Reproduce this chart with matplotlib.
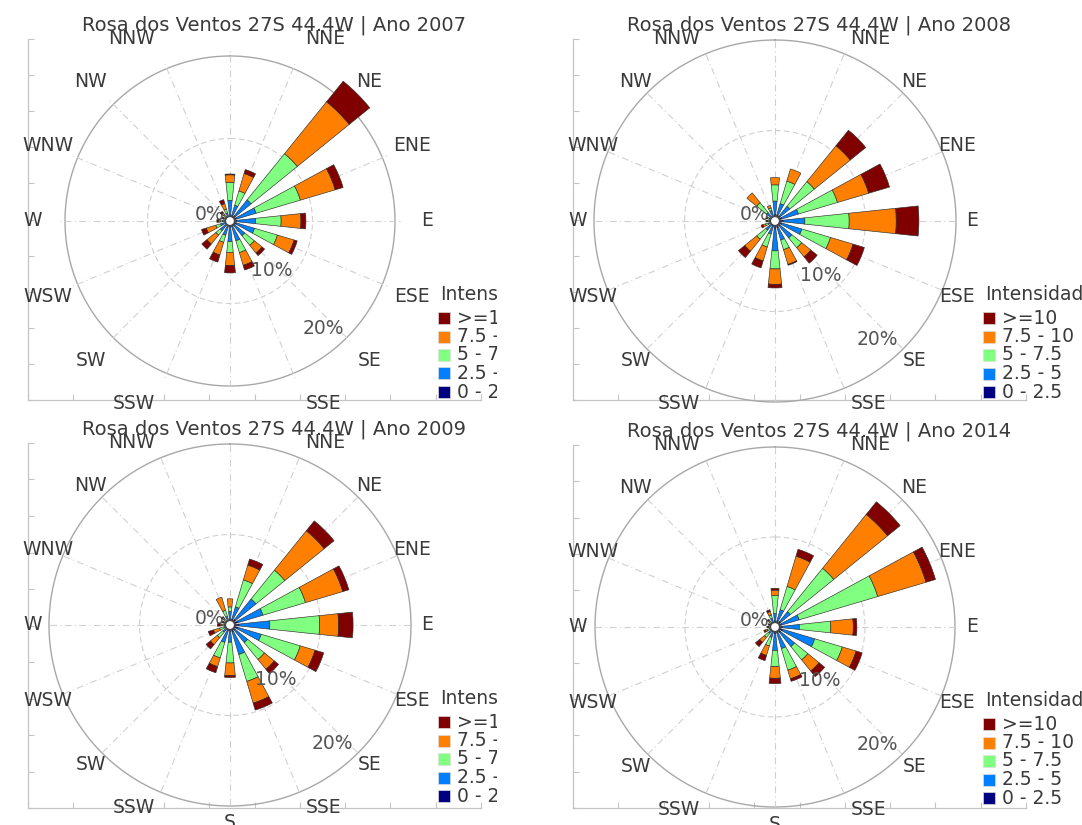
import matplotlib
matplotlib.use('Agg')
import matplotlib.pyplot as plt
from matplotlib.patches import Wedge, Circle, Rectangle
import numpy as np

W_PX, H_PX = 1082, 825

directions = ['N', 'NNE', 'NE', 'ENE', 'E', 'ESE', 'SE', 'SSE',
              'S', 'SSW', 'SW', 'WSW', 'W', 'WNW', 'NW', 'NNW']
classes = ['0 - 2.5', '2.5 - 5', '5 - 7.5', '7.5 - 10', '>=10']
class_colors = ['#000080', '#0080ff', '#80ff80', '#ff8000', '#800000']
years = [2007, 2008, 2009, 2014]

# frequencia (%) por classe de intensidade (linhas) e direcao (colunas)
freq_2007 = [
    [.6, .7, .8, .8, .8, .8, .7, .7, .7, .6, .5, .5, .4, .3, .3, .4],
    [1.9, 1.3, 2.5, 2.5, 2.3, 2.3, 1.6, 1.8, 1.8, 1.2, 1.0, .7, .5, .3, .4, .6],
    [2.2, 1.8, 7.2, 5.6, 3.1, 2.9, 1.5, 1.5, 1.3, .9, .7, .6, .3, .2, .3, .5],
    [.9, 2.2, 8.1, 4.4, 2.4, 2.1, 1.2, 1.6, 1.6, 1.6, 1.4, 1.2, .2, .1, .3, .7],
    [.1, .5, 3.2, 1.0, .6, .4, .4, .6, .9, .9, .8, .6, .2, .1, .2, .5],
]
freq_2008 = [
    [.7, .7, .7, .8, .9, .8, .7, .8, .9, .6, .5, .4, .3, .3, .4, .4],
    [1.5, 1.3, 1.4, 1.9, 2.4, 2.3, 1.7, 1.4, 2.4, .9, .8, .4, .3, .4, .8, .8],
    [1.8, 2.6, 3.5, 4.5, 4.9, 3.3, 1.4, 1.1, 2.0, 1.5, 1.3, .3, .2, .2, 1.4, .3],
    [.8, 1.4, 5.1, 3.6, 5.2, 2.6, 1.3, 1.7, 1.7, 1.6, 1.7, .3, .1, .1, 1.4, .3],
    [0, 0, 2.2, 2.4, 2.5, 1.3, .9, .1, .4, .8, .9, .2, .1, 0, 0, 0],
]
freq_2009 = [
    [.6, .7, .8, .9, 1.0, .9, .7, .8, .6, .6, .4, .3, .3, .3, .3, .4],
    [.9, 1.4, 2.9, 2.9, 3.4, 2.7, 1.8, 2.6, 1.3, 1.4, .6, .4, .3, .2, .3, .6],
    [.5, 3.1, 4.1, 4.9, 5.5, 4.5, 2.4, 3.1, 2.3, 1.8, .8, .5, .3, .2, .3, .7],
    [.9, 1.7, 5.6, 4.3, 2.1, 1.7, 1.4, 2.5, 1.4, 1.0, 1.0, .7, .2, .1, .2, 1.5],
    [0, .7, 1.4, .7, 1.6, 1.0, .6, .8, .2, .7, .6, .6, .3, .1, .1, 0],
]
freq_2014 = [
    [.6, .7, .8, .8, .8, .9, .8, .7, .7, .5, .4, .3, .3, .3, .3, .4],
    [.9, 1.3, 1.4, 2.0, 1.9, 3.7, 2.0, 1.8, 1.9, .7, .5, .3, .2, .2, .3, .6],
    [2.0, 2.7, 6.2, 9.1, 3.5, 3.2, 1.9, 2.5, 1.8, 1.0, .6, .3, .2, .1, .2, .4],
    [.6, 3.5, 7.7, 5.6, 2.5, 1.6, 1.6, 1.0, 1.3, 1.1, .7, .2, .1, .1, .2, .4],
    [.2, .8, 1.8, 1.1, .4, .7, .8, .3, .6, .6, .6, .2, .1, .1, .1, .2],
]
freqs = [freq_2007, freq_2008, freq_2009, freq_2014]

# layout de cada painel em pixels
frame_left = [28, 573, 28, 573]
frame_top = [39, 39, 443, 445]
frame_h = [361, 361, 365, 363]
frame_w = 453
rose_radius = [165, 181, 181, 180]   # raio do circulo de 20%
spoke_pct = [21, 20, 20, 20]
panel_box = [(0, 0, 497, 410), (545, 0, 1082, 410),
             (0, 410, 497, 825), (545, 410, 1082, 825)]

text_col = '#3a3a3a'
bar_width = 12.0  # graus

fig = plt.figure(figsize=(W_PX / 100, H_PX / 100), dpi=100)
fig.patch.set_facecolor('white')


def fig_rect(x0, y0, x1, y1):
    return [x0 / W_PX, 1 - y1 / H_PX, (x1 - x0) / W_PX, (y1 - y0) / H_PX]


for i, year in enumerate(years):
    fl, ft, fh = frame_left[i], frame_top[i], frame_h[i]

    # eixos cartesianos de fundo (so as linhas e ticks)
    axf = fig.add_axes(fig_rect(fl, ft, fl + frame_w, ft + fh), zorder=1)
    axf.set_xlim(0, 1)
    axf.set_ylim(0, 1)
    axf.set_xticks(np.linspace(0, 1, 11))
    axf.set_yticks(np.linspace(0, 1, 11))
    axf.tick_params(direction='in', length=4, width=0.8, color='#c4c4c4',
                    labelbottom=False, labelleft=False)
    for side in ['top', 'right']:
        axf.spines[side].set_visible(False)
    for side in ['left', 'bottom']:
        axf.spines[side].set_color('#c4c4c4')
        axf.spines[side].set_linewidth(0.9)
    axf.set_facecolor('none')

    # eixos da rosa, em % a partir do centro
    cx, cy = fl + 202, ft + 182
    s = rose_radius[i] / 20.0
    x0, y0, x1, y1 = panel_box[i]
    ax = fig.add_axes(fig_rect(x0, y0, x1, y1), zorder=2)
    ax.set_xlim((x0 - cx) / s, (x1 - cx) / s)
    ax.set_ylim((cy - y1) / s, (cy - y0) / s)
    ax.axis('off')

    def D(px, py):
        return (px - cx) / s, (cy - py) / s

    # grade
    th = np.linspace(0, 2 * np.pi, 400)
    ax.plot(10 * np.sin(th), 10 * np.cos(th), color='#d0d0d0', lw=0.8,
            ls=(0, (5, 3)), zorder=1)
    ax.plot(20 * np.sin(th), 20 * np.cos(th), color='#a8a8a8', lw=1.0, zorder=1)
    for k in range(len(directions)):
        b = np.radians(22.5 * k)
        ax.plot([0, spoke_pct[i] * np.sin(b)], [0, spoke_pct[i] * np.cos(b)],
                color='#d0d0d0', lw=0.8, ls=(0, (6, 3, 1, 3)), zorder=1)

    ax.text(-20 / s, 7 / s, '0%', fontsize=13.5, color='#555555',
            ha='center', va='center', zorder=2)
    for val, rr, bb in [(10, 7.8, 140), (20, 17.3, 139)]:
        ax.text(rr * np.sin(np.radians(bb)), rr * np.cos(np.radians(bb)),
                '%d%%' % val, fontsize=13.5, color='#555555',
                ha='center', va='center', zorder=5)

    # barras empilhadas
    data = freqs[i]
    for k in range(len(directions)):
        ang = 90 - 22.5 * k
        bottom = 0.0
        for c in range(len(classes)):
            f = data[c][k]
            if f <= 0:
                continue
            top = bottom + f
            ax.add_patch(Wedge((0, 0), top, ang - bar_width / 2, ang + bar_width / 2,
                               width=f, facecolor=class_colors[c],
                               edgecolor='#2e2e2e', lw=0.45, zorder=3))
            bottom = top
    ax.add_patch(Circle((0, 0), 4.5 / s, facecolor='white',
                        edgecolor='#444444', lw=0.9, zorder=4))

    # rotulos das direcoes
    R = 197 / s
    for k, name in enumerate(directions):
        if name == 'N':
            continue
        b = np.radians(22.5 * k)
        ha = 'center'
        if name in ('NNE', 'SSE'):
            ha = 'left'
        elif name in ('NNW', 'SSW'):
            ha = 'right'
        ax.text(R * np.sin(b), R * np.cos(b), name, fontsize=13.5,
                color=text_col, ha=ha, va='center', clip_on=True, zorder=5)

    # titulo
    tx, ty = D(fl + 246, ft - 14)
    ax.text(tx, ty, 'Rosa dos Ventos 27S 44.4W | Ano %d' % year,
            fontsize=14, color=text_col, ha='center', va='center', zorder=6)

    # legenda
    lx = fl + 410
    gx, gy = D(lx + 2, ft + 256)
    ax.text(gx, gy, 'Intensidade', fontsize=13.5, color=text_col,
            ha='left', va='center', clip_on=True, zorder=6)
    for j in range(len(classes)):
        c = len(classes) - 1 - j
        rowy = ft + 279 + j * 18.5
        rx0, ry0 = D(lx, rowy + 6)
        ax.add_patch(Rectangle((rx0, ry0), 12 / s, 12 / s,
                               facecolor=class_colors[c], edgecolor='#dddddd',
                               lw=0.5, zorder=6))
        tx, ty = D(lx + 19, rowy)
        ax.text(tx, ty, classes[c], fontsize=13.5, color=text_col,
                ha='left', va='center', clip_on=True, zorder=6)

fig.savefig('out.png', dpi=100, facecolor='white')
